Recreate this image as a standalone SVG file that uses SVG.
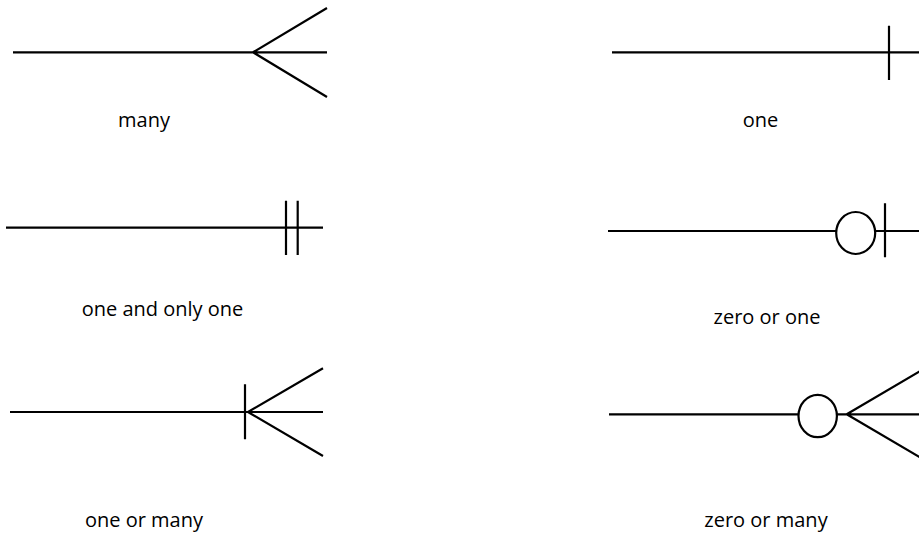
<svg xmlns="http://www.w3.org/2000/svg" width="919" height="537" viewBox="0 0 919 537">
<style>
.s{stroke:#000;stroke-width:2.2;fill:none;stroke-linecap:butt}
.c{stroke:#000;stroke-width:2.2;fill:#fff}
.t{font-family:"Open Sans","Noto Sans","Liberation Sans",sans-serif;font-size:20px;fill:#000;text-anchor:middle}
</style>
<rect width="919" height="537" fill="#fff"/>
<g id="many">
<path class="s" d="M13 52.3H327M253 52.3L327 8M253 52.3L327 97"/>
<text class="t" x="144" y="127">many</text>
</g>
<g id="one">
<path class="s" d="M612 52.3H919M889 25.7V80"/>
<text class="t" x="760.5" y="127">one</text>
</g>
<g id="one-and-only-one">
<path class="s" d="M6 227.7H323M286 200.7V255M297.7 200.7V255"/>
<text class="t" x="162.5" y="316">one and only one</text>
</g>
<g id="zero-or-one">
<path class="s" d="M608 231H919M885 203.3V257.3"/>
<ellipse class="c" cx="855.7" cy="233" rx="19.5" ry="21"/>
<text class="t" x="767" y="324">zero or one</text>
</g>
<g id="one-or-many">
<path class="s" d="M10 412H323M245 384.3V439.3M248 412L323 368.3M248 412L323 456"/>
<text class="t" x="144" y="527">one or many</text>
</g>
<g id="zero-or-many">
<path class="s" d="M609 414.3H919M846.7 414.3L921 370.5M846.7 414.3L921 458"/>
<ellipse class="c" cx="817.7" cy="416" rx="19.2" ry="21.2"/>
<text class="t" x="766" y="527">zero or many</text>
</g>
</svg>
